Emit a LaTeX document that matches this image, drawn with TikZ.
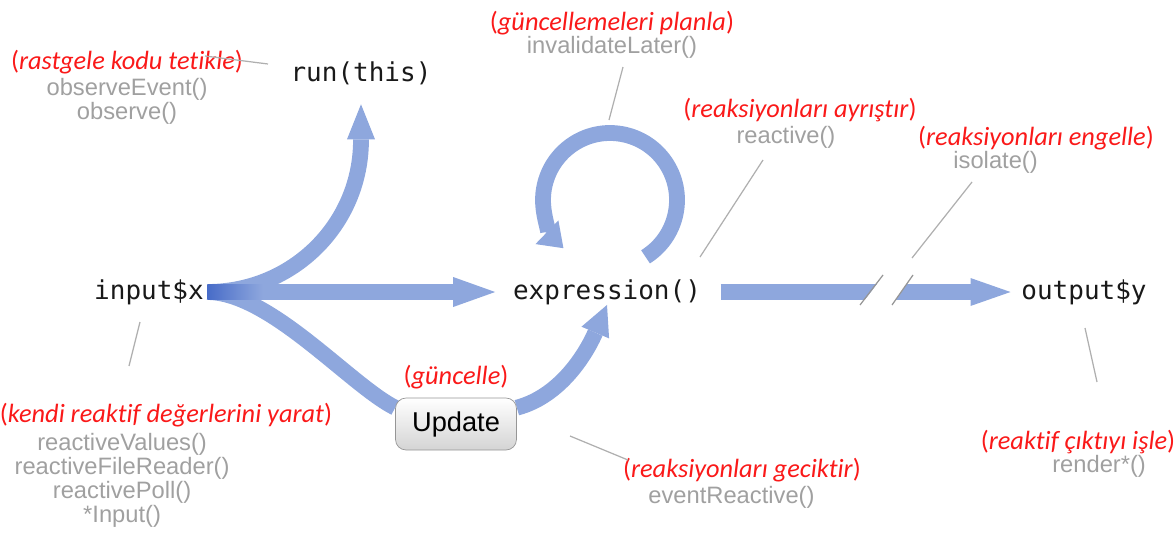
\documentclass[tikz,border=0pt]{standalone}
\usepackage{fontspec}
\setmainfont{Liberation Sans}
\newfontfamily\codefont{DejaVu Sans Mono}
\newfontfamily\notefont[Ligatures={NoCommon,NoRequired,NoContextual}]{Carlito}
\usetikzlibrary{arrows.meta, positioning, backgrounds}

\definecolor{flowblue}{RGB}{142,167,221}
\definecolor{srcblue}{RGB}{72,108,200}
\definecolor{notered}{RGB}{250,25,25}
\definecolor{fngray}{RGB}{160,160,160}
\definecolor{leadgray}{RGB}{175,175,175}
\definecolor{codeblack}{RGB}{25,25,25}
\definecolor{btnedge}{RGB}{150,150,150}
\definecolor{btnshade}{RGB}{212,212,212}

\newcommand{\redtag}[1]{(\textit{#1})}

\begin{document}
\begin{tikzpicture}[
  x=0.02cm, y=-0.02cm,
  code/.style={font=\codefont\fontsize{14.8}{17}\selectfont, text=codeblack, inner sep=0pt},
  note/.style={font=\notefont\fontsize{15}{17}\selectfont, text=notered, inner sep=0pt},
  fn/.style={font=\fontsize{13.5}{13.5}\selectfont, text=fngray, inner sep=0pt, align=center},
  flow/.style={draw=flowblue, line width=9pt},
  leader/.style={draw=leadgray, line width=0.7pt},
  button/.style={draw=btnedge, rounded corners=6pt, top color=white, bottom color=btnshade,
    minimum width=2.42cm, minimum height=1.04cm, font=\fontsize{15.5}{17}\selectfont}
]
  \useasboundingbox (0,0) rectangle (1175,538);

  % main nodes
  \node[code] (input) at (149,292) {input\$x};
  \node[code] (run) at (361,73) {run(this)};
  \node[code] (expr) at (607,292) {expression()};
  \node[code] (out) at (1084,292) {output\$y};
  \node[inner sep=0pt, minimum width=1.1cm, minimum height=9pt, left color=srcblue, right color=flowblue] (src) at (235,292) {};
  \node[button] (upd) at (456,424) {Update};

  % flows
  \begin{scope}[on background layer]
    \draw[flow, -{Triangle[length=0.84cm,width=0.6cm,line width=0pt]}, shorten >=10pt] (src.west) -- (src.west -| expr.west);
    \draw[flow, -{Triangle[length=0.7cm,width=0.56cm,line width=0pt]}, shorten >=11pt] (src.west) .. controls (293,292) and (361,224) .. (361,140) -- (run.south);
    \draw[flow] (src.west) .. controls (270,292) and (350,385) .. (upd.165);
    \draw[flow, -{Triangle[length=0.6cm,width=0.6cm,line width=0pt]}] (upd.15) .. controls (565,395) and (590,345) .. (expr.south);
    \draw[flow, -{Triangle[length=0.8cm,width=0.56cm,line width=0pt]}, shorten <=11pt, shorten >=6pt] (expr.east) -- (expr.east -| out.west);
    \draw[flow, -{Triangle[length=0.46cm,width=0.66cm,line width=0pt]}] ([shift={(3,-92)}]expr.center) ++(58:67) arc[start angle=58, end angle=-226, radius=67];
  \end{scope}

  % break in the output flow
  \fill[white] (861,305) -- (884,275) -- (913,275) -- (892,305) -- cycle;
  \draw[leader, draw=btnedge] (860,305) -- (883,275);
  \draw[leader, draw=btnedge] (892,305) -- (913,275);

  % labels
  \node[note] (trigtag) at (127,62) {\redtag{rastgele kodu tetikle}};
  \node[fn, below=2pt of trigtag] (trig) {observeEvent()\\observe()};
  \node[note] (plantag) at (612,23) {\redtag{güncellemeleri planla}};
  \node[fn, below=0.5pt of plantag] (plan) {invalidateLater()};
  \node[note] (septag) at (800,110) {\redtag{reaksiyonları ayrıştır}};
  \node[fn, below=2pt of septag, xshift=-8pt] (sep) {reactive()};
  \node[note] (blocktag) at (1036,138) {\redtag{reaksiyonları engelle}};
  \node[fn, below=0.5pt of blocktag, xshift=-23pt] (block) {isolate()};
  \node[note] (maketag) at (166,415) {\redtag{kendi reaktif değerlerini yarat}};
  \node[fn, below=3.5pt of maketag, xshift=-25pt] (make) {reactiveValues()\\reactiveFileReader()\\reactivePoll()\\*Input()};
  \node[note, above=5pt of upd] (updtag) {\redtag{güncelle}};
  \node[note] (delaytag) at (742,470) {\redtag{reaksiyonları geciktir}};
  \node[fn, below=2pt of delaytag, xshift=-6pt] (delay) {eventReactive()};
  \node[note] (rendertag) at (1078,442) {\redtag{reaktif çıktıyı işle}};
  \node[fn, below=0.5pt of rendertag, xshift=12pt] (render) {render*()};

  % leader lines
  \coordinate (lTrigA) at (205,56);   \coordinate (lTrigB) at (268,64);
  \coordinate (lPlanA) at (623,67);   \coordinate (lPlanB) at (609,120);
  \coordinate (lSepA) at (763,160);   \coordinate (lSepB) at (700,257);
  \coordinate (lBlockA) at (972,182); \coordinate (lBlockB) at (912,258);
  \coordinate (lMakeA) at (140,322);  \coordinate (lMakeB) at (129,366);
  \coordinate (lDelayA) at (570,436); \coordinate (lDelayB) at (628,460);
  \coordinate (lRenderA) at (1085,328); \coordinate (lRenderB) at (1097,382);
  \draw[leader] (lTrigA) -- (lTrigB);
  \draw[leader] (lPlanA) -- (lPlanB);
  \draw[leader] (lSepA) -- (lSepB);
  \draw[leader] (lBlockA) -- (lBlockB);
  \draw[leader] (lMakeA) -- (lMakeB);
  \draw[leader] (lDelayA) -- (lDelayB);
  \draw[leader] (lRenderA) -- (lRenderB);
\end{tikzpicture}
\end{document}
